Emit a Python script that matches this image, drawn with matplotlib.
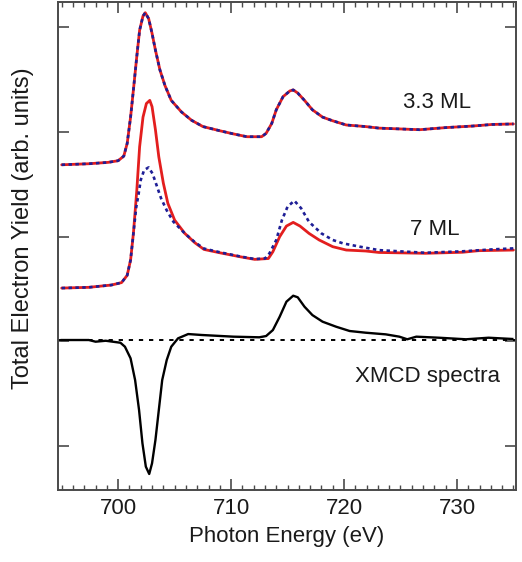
import matplotlib
matplotlib.use("Agg")
import matplotlib.pyplot as plt
from matplotlib.ticker import MultipleLocator

plt.rcParams["font.family"] = ["Liberation Sans", "DejaVu Sans"]

# --- 3.3 ML film: both helicities coincide ---
e_33 = [695.0, 697.4, 699.1, 700.0, 700.5, 700.8, 701.1, 701.35, 701.65, 701.9,
        702.2, 702.4, 702.7, 703.0, 703.3, 703.7, 704.15, 704.7, 705.6, 706.5,
        707.5, 709.0, 710.2, 711.4, 712.7, 713.1, 713.6, 714.0, 714.6, 715.2,
        715.5, 715.9, 716.5, 717.2, 718.1, 719.0, 720.2, 721.9, 723.1, 726.7,
        729.0, 731.4, 733.1, 735.0]
tey_33_plus = [2.685, 2.695, 2.708, 2.724, 2.768, 2.89, 3.14, 3.40, 3.72, 3.97,
               4.105, 4.137, 4.08, 3.94, 3.78, 3.59, 3.44, 3.30, 3.19, 3.11,
               3.05, 3.01, 2.98, 2.953, 2.953, 2.985, 3.08, 3.21, 3.335, 3.39,
               3.40, 3.37, 3.30, 3.21, 3.14, 3.105, 3.065, 3.05, 3.035, 3.02,
               3.04, 3.055, 3.07, 3.075]
tey_33_minus = [2.685, 2.695, 2.708, 2.724, 2.768, 2.89, 3.14, 3.40, 3.72, 3.97,
                4.105, 4.137, 4.08, 3.94, 3.78, 3.59, 3.44, 3.30, 3.19, 3.11,
                3.05, 3.01, 2.98, 2.953, 2.953, 2.985, 3.08, 3.21, 3.335, 3.39,
                3.40, 3.37, 3.30, 3.21, 3.14, 3.105, 3.065, 3.05, 3.035, 3.02,
                3.04, 3.055, 3.07, 3.075]

# --- 7 ML film ---
e_7_plus = [695.0, 697.4, 699.4, 700.3, 700.8, 701.1, 701.35, 701.65, 701.9, 702.2,
            702.5, 702.8, 703.0, 703.3, 703.6, 704.0, 704.4, 705.0, 705.9, 706.8,
            707.6, 709.0, 710.8, 712.1, 713.3, 713.7, 714.3, 714.9, 715.5, 716.1,
            716.9, 717.8, 719.0, 720.2, 721.9, 723.1, 727.2, 730.5, 731.9, 735.0]
tey_7_plus = [1.508, 1.515, 1.537, 1.56, 1.63, 1.776, 2.03, 2.44, 2.857, 3.14,
              3.27, 3.30, 3.24, 3.02, 2.76, 2.51, 2.317, 2.157, 2.03, 1.94,
              1.877, 1.845, 1.807, 1.782, 1.79, 1.855, 1.998, 2.10, 2.135, 2.10,
              2.03, 1.967, 1.903, 1.871, 1.862, 1.848, 1.84, 1.85, 1.865, 1.871]

e_7_minus = [695.0, 697.4, 699.4, 700.3, 700.8, 701.1, 701.35, 701.6, 701.8, 702.0,
             702.3, 702.7, 703.05, 703.4, 703.8, 704.3, 704.9, 705.9, 706.8, 707.6,
             709.0, 710.8, 712.1, 713.0, 713.4, 714.0, 714.5, 715.0, 715.6, 716.2,
             716.9, 718.0, 719.0, 719.9, 721.4, 723.1, 727.2, 730.5, 733.1, 735.0]
tey_7_minus = [1.508, 1.515, 1.537, 1.56, 1.63, 1.776, 2.03, 2.28, 2.40, 2.54,
               2.635, 2.66, 2.60, 2.49, 2.365, 2.25, 2.14, 2.03, 1.945, 1.885,
               1.85, 1.81, 1.785, 1.79, 1.84, 1.967, 2.157, 2.285, 2.342, 2.27,
               2.14, 2.03, 1.967, 1.935, 1.903, 1.87, 1.845, 1.859, 1.877, 1.887]

# --- XMCD difference spectrum ---
xmcd_zero = 1.012
e_xmcd = [695.0, 697.4, 698.0, 698.9, 700.2, 700.6, 701.1, 701.5, 701.85, 702.15,
          702.45, 702.75, 703.0, 703.3, 703.6, 703.9, 704.3, 704.7, 705.3, 706.2,
          707.4, 710.2, 712.5, 713.1, 713.7, 714.3, 714.9, 715.5, 715.9, 716.5,
          717.2, 718.1, 719.3, 720.5, 721.9, 723.7, 724.9, 725.6, 726.4, 728.4,
          730.8, 732.8, 734.9]
xmcd = [1.012, 1.012, 0.996, 1.005, 0.986, 0.948, 0.837, 0.63, 0.344, 0.026,
        -0.197, -0.267, -0.165, 0.057, 0.344, 0.63, 0.821, 0.948, 1.028, 1.069,
        1.06, 1.044, 1.038, 1.05, 1.107, 1.234, 1.378, 1.435, 1.42, 1.33,
        1.25, 1.187, 1.139, 1.098, 1.082, 1.066, 1.044, 1.019, 1.044, 1.034,
        1.019, 1.034, 1.022]

labels = ["3.3 ML", "7 ML", "XMCD spectra"]
label_pos = [(728.25, 3.28), (728.0, 2.07), (727.35, 0.66)]
x_ticks = [700, 710, 720, 730]
y_ticks = [0, 1, 2, 3, 4]

red = "#e31e1e"
blue = "#1e1e96"
frame = "#4a4a4a"

fig = plt.figure(figsize=(5.22, 5.62), dpi=100)
ax = fig.add_axes([0.1117, 0.1281, 0.8762, 0.8683])

dot = (0, (1.3, 1.3))
ax.plot(e_33, tey_33_plus, color=red, lw=2.0, solid_capstyle="round",
        solid_joinstyle="round")
ax.plot(e_33, tey_33_minus, color=blue, lw=1.9, linestyle=dot)
ax.plot(e_7_plus, tey_7_plus, color=red, lw=2.0, solid_capstyle="round",
        solid_joinstyle="round")
ax.plot(e_7_minus, tey_7_minus, color=blue, lw=1.9, linestyle=dot)
ax.axhline(xmcd_zero, color="black", lw=1.4, linestyle=(0, (2.2, 3.0)))
ax.plot(e_xmcd, xmcd, color="black", lw=1.7, solid_joinstyle="round")

for txt, (x, y) in zip(labels, label_pos):
    ax.text(x, y, txt, fontsize=16, ha="center", va="center", color="#1a1a1a")

ax.set_xlim(694.7, 735.2)
ax.set_ylim(-0.42, 4.239)
ax.set_xticks(x_ticks)
ax.xaxis.set_minor_locator(MultipleLocator(1))
ax.set_yticks(y_ticks)
ax.set_yticklabels([])
ax.tick_params(axis="both", which="major", direction="in", top=True, right=True,
               length=8, width=1.2, color=frame, labelsize=16, pad=6,
               labelcolor="#1a1a1a")
ax.tick_params(axis="x", which="minor", direction="in", top=True, bottom=True,
               length=3.8, width=1.0, color=frame)
for s in ax.spines.values():
    s.set_color(frame)
    s.set_linewidth(1.4)

ax.set_xlabel("Photon Energy (eV)", fontsize=16, labelpad=5, color="#1a1a1a")
fig.text(0.045, 0.594, "Total Electron Yield (arb. units)", rotation=90,
         fontsize=17, ha="center", va="center", color="#1a1a1a")

fig.savefig("out.png", dpi=100)
